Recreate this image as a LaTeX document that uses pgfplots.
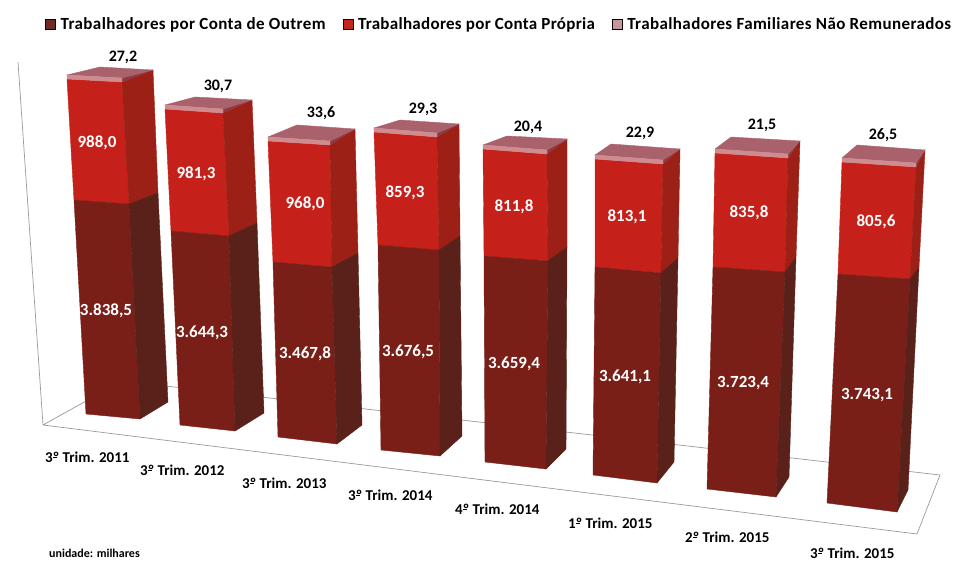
\documentclass[border=0pt]{standalone}
\usepackage{fontspec}
\usepackage{pgfplots}
\pgfplotsset{compat=1.18}
\setmainfont{Carlito}
\definecolor{darkF}{HTML}{7A1F18}
\definecolor{darkS}{HTML}{5A211A}
\definecolor{redF}{HTML}{C6201A}
\definecolor{redS}{HTML}{9C2015}
\definecolor{pinkT}{HTML}{A9616B}
\definecolor{pinkL}{HTML}{CF8C90}
\definecolor{pinkS}{HTML}{8E3A3E}
\definecolor{legD}{HTML}{6F2A25}
\definecolor{legR}{HTML}{C3261E}
\definecolor{legP}{HTML}{C9979B}
\definecolor{floorc}{HTML}{9A9A9A}
\newcommand\ord{\rlap{\rule[0.3em]{0.3em}{0.06em}}º}
\newcommand\face[2]{\addplot[forget plot,draw=#1,line width=0.4pt,fill=#1] coordinates {#2} -- cycle;}
% A' B' C D A B : top face and its thin front strip
\newcommand\BarTop[6]{\face{pinkS}{#2 #3 #6}\face{pinkT}{#1 #2 #3 #4}\face{pinkL}{#1 #2 #6 #5}}
% A B C P Q R U V W
\newcommand\BarBody[9]{%
  \face{redF}{#1 #2 #5 #4}\face{redS}{#2 #3 #6 #5}%
  \face{darkF}{#4 #5 #8 #7}\face{darkS}{#5 #6 #9 #8}}
\begin{document}
\begin{tikzpicture}
\begin{axis}[
  width=959pt,height=561pt,scale only axis,
  xmin=0,xmax=959,ymin=0,ymax=561,y dir=reverse,
  hide axis,clip=false,
  legend style={at={(axis cs:45,24)},anchor=west,draw=none,fill=none,inner sep=0pt,
    legend columns=-1,font=\fontsize{17}{20}\selectfont\bfseries,
    nodes={inner sep=0pt},
    /tikz/every even column/.style={column sep=17pt},
    /tikz/every odd column/.style={column sep=5pt},
    cells={anchor=west}},
  legend image code/.code={\fill[#1] (0pt,-5pt) rectangle (10pt,5pt);},
]
% full page extent
\addplot[forget plot,draw=none,mark=none] coordinates {(0,0) (959,561)};
% floor and wall
\addplot[forget plot,floorc,line width=0.7pt] coordinates {(18,62) (43,425) (122,381) (940,475) (917,534) (43,425)};
% bars
\BarBody{(67,79)}{(122,82)}{(153,70)}{(74,200)}{(129,204)}{(158,193)}{(86,414)}{(140,419)}{(168,402)}
\BarTop{(67,75)}{(122,78)}{(153,70)}{(100,67)}{(67,79)}{(122,82)}
\BarBody{(165,109)}{(223,113)}{(252,100)}{(171,231)}{(229,236)}{(257,223)}{(180,425)}{(235,431)}{(264,413)}
\BarTop{(165,105)}{(223,109)}{(252,100)}{(195,97)}{(165,109)}{(223,113)}
\BarBody{(268,141)}{(330,145)}{(355,129)}{(273,262)}{(332,267)}{(358,253)}{(278,437)}{(337,444)}{(362,425)}
\BarTop{(268,137)}{(330,141)}{(355,129)}{(297,125)}{(268,141)}{(330,145)}
\BarBody{(374,132)}{(437,137)}{(459,124)}{(378,245)}{(439,250)}{(460,236)}{(381,450)}{(440,456)}{(462,436)}
\BarTop{(374,128)}{(437,133)}{(459,124)}{(400,120)}{(374,132)}{(437,137)}
\BarBody{(483,149)}{(547,154)}{(567,139)}{(484,256)}{(548,261)}{(567,247)}{(485,462)}{(546,469)}{(566,449)}
\BarTop{(483,145)}{(547,150)}{(567,139)}{(507,136)}{(483,149)}{(547,154)}
\BarBody{(595,159)}{(663,164)}{(680,149)}{(595,267)}{(661,273)}{(678,258)}{(593,475)}{(657,483)}{(674,462)}
\BarTop{(595,155)}{(663,160)}{(680,149)}{(611,144)}{(595,159)}{(663,164)}
\BarBody{(715,153)}{(788,158)}{(800,141)}{(713,267)}{(785,272)}{(796,257)}{(707,489)}{(776,497)}{(789,477)}
\BarTop{(715,149)}{(788,154)}{(800,141)}{(731,137)}{(715,153)}{(788,158)}
\BarBody{(842,162)}{(916,167)}{(925,150)}{(838,274)}{(910,279)}{(919,267)}{(827,503)}{(897,512)}{(908,490)}
\BarTop{(842,158)}{(916,163)}{(925,150)}{(857,145)}{(842,162)}{(916,167)}
% values on top (Trabalhadores Familiares Nao Remunerados)
\addplot[forget plot,draw=none,mark=none,point meta=explicit symbolic,nodes near coords,
  every node near coord/.style={anchor=center,inner sep=0pt,text=black,font=\fontsize{16}{18}\selectfont\bfseries}]
  coordinates {(123,57) [27,2] (218,86) [30,7] (321,113) [33,6] (423,109) [29,3] (528,127) [20,4] (640,133) [22,9] (762,125) [21,5] (883,135) [26,5]};
% values: Conta Propria and Conta de Outrem
\addplot[forget plot,draw=none,mark=none,point meta=explicit symbolic,nodes near coords,
  every node near coord/.style={anchor=center,inner sep=0pt,text=white,font=\fontsize{17}{19}\selectfont\bfseries}]
  coordinates {(97,143) [988,0] (196,174) [981,3] (305,204) [968,0] (405,193) [859,3] (514,207) [811,8] (627,217) [813,1] (749,213) [835,8] (876,222) [805,6]
  (106,311) [3.838,5] (202,333) [3.644,3] (305,354) [3.467,8] (408,352) [3.676,5] (514,364) [3.659,4] (625,377) [3.641,1] (743,383) [3.723,4] (867,395) [3.743,1]};
% category labels
\addplot[forget plot,draw=none,mark=none,point meta=explicit symbolic,nodes near coords,
  every node near coord/.style={anchor=west,inner sep=0pt,text=black,font=\fontsize{15}{18}\selectfont\bfseries}]
  coordinates {(45,457) [3\ord\ Trim. 2011] (140,470) [3\ord\ Trim. 2012] (242,483) [3\ord\ Trim. 2013] (348,495) [3\ord\ Trim. 2014] (455,509) [4\ord\ Trim. 2014] (568,523) [1\ord\ Trim. 2015] (685,537) [2\ord\ Trim. 2015] (810,553) [3\ord\ Trim. 2015]};
\addplot[forget plot,draw=none,mark=none,point meta=explicit symbolic,nodes near coords,
  every node near coord/.style={anchor=west,inner sep=0pt,text=black,font=\fontsize{12}{13}\selectfont\bfseries}]
  coordinates {(49,553) [unidade: milhares]};
% legend
\addlegendimage{fill=legD}\addlegendentry{\addfontfeatures{LetterSpace=2.4}Trabalhadores por Conta de Outrem}
\addlegendimage{fill=legR}\addlegendentry{\addfontfeatures{LetterSpace=1.7}Trabalhadores por Conta Própria}
\addlegendimage{fill=legP}\addlegendentry{\addfontfeatures{LetterSpace=2.3}Trabalhadores Familiares Não Remunerados}
\end{axis}
\end{tikzpicture}
\end{document}
